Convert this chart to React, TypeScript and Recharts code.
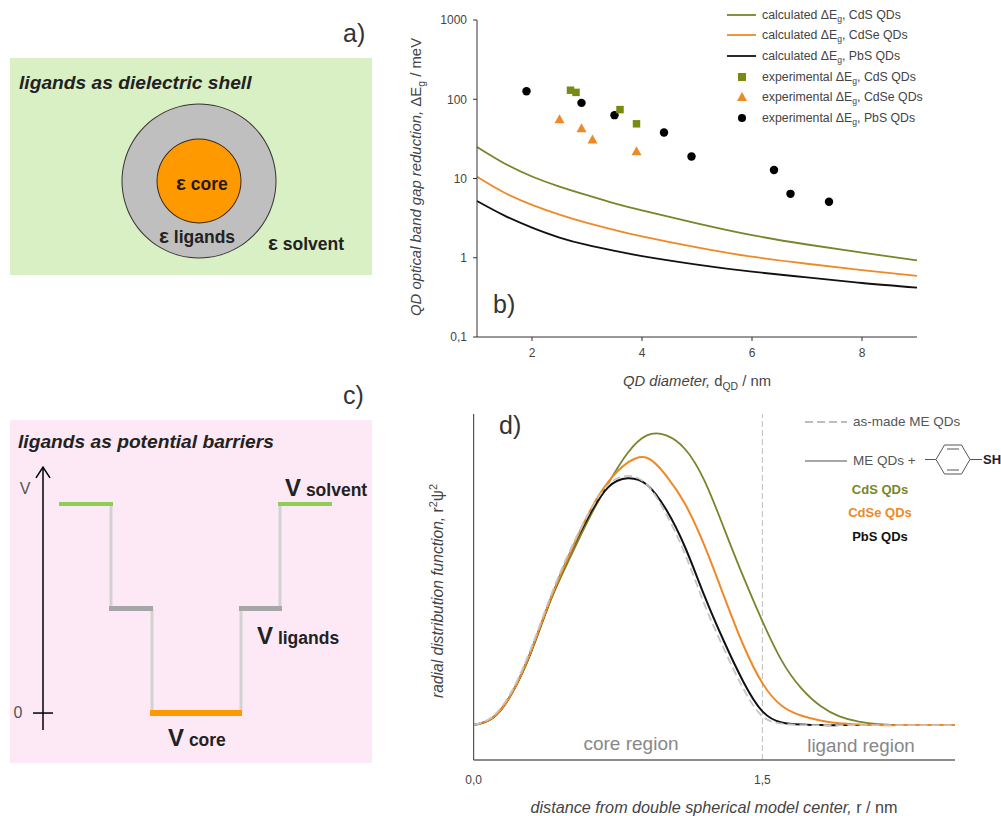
import React from 'react'
import { ComposedChart, LineChart, PieChart, Pie, Line, Scatter, XAxis, YAxis, ZAxis, ReferenceLine } from 'recharts'

const OLIVE = '#77862b'
const ORANGE = '#ee8a26'
const FONT = '"Liberation Sans", Arial, sans-serif'

// panel b
const diameters = [1, 1.5, 2, 2.5, 3, 3.5, 4, 5, 6, 7, 8, 9]
const calcCdS = [25, 15.5, 10.6, 7.9, 6.15, 4.85, 3.95, 2.72, 1.93, 1.47, 1.16, 0.925]
const calcCdSe = [10.5, 6.6, 4.65, 3.5, 2.75, 2.24, 1.86, 1.35, 1.03, 0.84, 0.7, 0.59]
const calcPbS = [5.2, 3.4, 2.4, 1.8, 1.45, 1.22, 1.05, 0.82, 0.667, 0.565, 0.48, 0.42]

const expCdS = [[2.7, 130], [2.8, 122], [3.6, 74], [3.9, 49]]
const expCdSe = [[2.5, 56], [2.9, 43], [3.1, 31], [3.9, 22]]
const expPbS = [[1.9, 126], [2.9, 90], [3.5, 63], [4.4, 38], [4.9, 19], [6.4, 12.8], [6.7, 6.4], [7.4, 5.1]]

const gapTicks = [0.1, 1, 10, 100, 1000]
const diameterTicks = [2, 4, 6, 8]

// panel d
const radii = [0, 0.1, 0.2, 0.3, 0.4, 0.5, 0.6, 0.7, 0.8, 0.9, 1, 1.1, 1.2, 1.3, 1.4, 1.5, 1.6, 1.7, 1.8, 1.9, 2, 2.1, 2.2, 2.3, 2.4, 2.5]
const rdfCdS = [0, 0.025, 0.11, 0.25, 0.425, 0.57, 0.705, 0.825, 0.928, 0.988, 0.988, 0.94, 0.832, 0.672, 0.507, 0.354, 0.22, 0.127, 0.066, 0.03, 0.012, 0.003, 0, 0, 0, 0]
const rdfCdSe = [0, 0.025, 0.11, 0.255, 0.43, 0.585, 0.725, 0.83, 0.895, 0.912, 0.851, 0.752, 0.61, 0.44, 0.274, 0.143, 0.066, 0.033, 0.016, 0.006, 0.002, 0, 0, 0, 0, 0]
const rdfPbS = [0, 0.025, 0.11, 0.255, 0.43, 0.585, 0.715, 0.812, 0.842, 0.82, 0.735, 0.604, 0.439, 0.286, 0.149, 0.047, 0.009, 0.002, 0, 0, 0, 0, 0, 0, 0, 0]
const rdfAsMade = [0, 0.03, 0.118, 0.265, 0.44, 0.595, 0.725, 0.82, 0.85, 0.82, 0.72, 0.58, 0.41, 0.26, 0.125, 0.03, 0.005, 0, 0, 0, 0, 0, 0, 0, 0, 0]
const radiusTicks = [0, 1.5]

// panel c, x in arbitrary position units, y in potential levels
const levelSolventLeft = [[49, 2], [103, 2]]
const levelSolventRight = [[268, 2], [322, 2]]
const levelLigandLeft = [[99, 1], [143, 1]]
const levelLigandRight = [[229, 1], [272, 1]]
const levelCore = [[140, 0], [232, 0]]
const stepLines = [
  [[101, 2], [101, 1]],
  [[142, 1], [142, 0]],
  [[231, 0], [231, 1]],
  [[270, 1], [270, 2]],
]
const potentialAxis = [[33, -0.163], [33, 2.354]]
const potentialArrow = [[26, 2.25], [33, 2.354], [40, 2.25]]
const potentialZero = [[23, 0], [43, 0]]

// panel a, drawn back to front
const shells = [
  { name: 'shell edge', radius: 77.5, fill: '#333333' },
  { name: 'ligands', radius: 76.5, fill: '#bfbfbf' },
  { name: 'core edge', radius: 42.5, fill: '#3a2a1a' },
  { name: 'core', radius: 41.5, fill: '#ff9900' },
]

const toPoints = (pairs: number[][]) => pairs.map(([x, y]) => ({ x, y }))
const calcRows = (values: number[]) => diameters.map((x, i) => ({ x, y: values[i] }))
const rdfRows = (values: number[]) => radii.map((x, i) => ({ x, y: values[i] }))

function Note({ x, y, size = 12, color = '#444', bold = false, italic = false, center = false, rotate = false, children }: any) {
  let transform = center ? 'translate(-50%, -50%)' : 'translateY(-50%)'
  if (rotate) transform = 'translate(-50%, -50%) rotate(-90deg)'
  return (
    <div style={{ position: 'absolute', left: x, top: y, transform, fontSize: size, color, fontFamily: FONT, fontWeight: bold ? 'bold' : 'normal', fontStyle: italic ? 'italic' : 'normal', whiteSpace: 'nowrap', lineHeight: 1 }}>
      {children}
    </div>
  )
}

const Sub = ({ children }: any) => <sub style={{ fontSize: '0.7em', lineHeight: 0 }}>{children}</sub>
const Sup = ({ children }: any) => <sup style={{ fontSize: '0.7em', lineHeight: 0 }}>{children}</sup>

const SmallTriangle = ({ cx, cy }: any) => <polygon points={`${cx},${cy - 5} ${cx + 5},${cy + 4} ${cx - 5},${cy + 4}`} fill={ORANGE} />

function PanelB() {
  return (
    <div style={{ position: 'absolute', left: 400, top: 0 }}>
      <ComposedChart width={600} height={400} margin={{ top: 20, right: 83, bottom: 33, left: 27 }}>
        <XAxis dataKey="x" type="number" domain={[1, 9]} ticks={diameterTicks} stroke="#333" tick={{ fill: '#444', fontSize: 12, fontFamily: FONT }} tickSize={4} tickMargin={7} height={30} allowDuplicatedCategory={false} />
        <YAxis dataKey="y" type="number" scale="log" domain={[0.1, 1000]} ticks={gapTicks} allowDataOverflow stroke="#333" tick={{ fill: '#444', fontSize: 12, fontFamily: FONT }} tickSize={4} tickMargin={6} width={50} tickFormatter={(v) => (v === 0.1 ? '0,1' : String(v))} />
        <ZAxis range={[56, 56]} />
        <Line data={calcRows(calcCdS)} dataKey="y" type="natural" stroke={OLIVE} strokeWidth={1.8} dot={false} isAnimationActive={false} />
        <Line data={calcRows(calcCdSe)} dataKey="y" type="natural" stroke={ORANGE} strokeWidth={1.8} dot={false} isAnimationActive={false} />
        <Line data={calcRows(calcPbS)} dataKey="y" type="natural" stroke="#111" strokeWidth={1.8} dot={false} isAnimationActive={false} />
        <Scatter data={toPoints(expPbS)} dataKey="y" shape="circle" fill="#000" isAnimationActive={false} />
        <Scatter data={toPoints(expCdS)} dataKey="y" shape="square" fill="#7a8a10" isAnimationActive={false} />
        <Scatter data={toPoints(expCdSe)} dataKey="y" shape={SmallTriangle} fill={ORANGE} isAnimationActive={false} />
      </ComposedChart>
    </div>
  )
}

function PanelD() {
  const lineProps = { dataKey: 'y', type: 'natural' as const, dot: false, isAnimationActive: false }
  return (
    <div style={{ position: 'absolute', left: 420, top: 400 }}>
      <ComposedChart width={580} height={416} margin={{ top: 14, right: 45, bottom: 26, left: 23.6 }}>
        <XAxis dataKey="x" type="number" domain={[0, 2.5]} ticks={radiusTicks} stroke="#666" strokeWidth={1.5} tickLine={false} tick={{ fill: '#444', fontSize: 12, fontFamily: FONT }} tickMargin={9} tickFormatter={(v) => v.toFixed(1).replace('.', ',')} height={30} allowDuplicatedCategory={false} />
        <YAxis dataKey="y" type="number" domain={[-0.119, 1.061]} allowDataOverflow tick={false} tickLine={false} stroke="#555" strokeWidth={1.2} width={30} />
        <ReferenceLine x={1.5} stroke="#c8c8c8" strokeDasharray="6 3" strokeWidth={1.2} />
        <Line data={rdfRows(rdfCdS)} stroke={OLIVE} strokeWidth={1.8} {...lineProps} />
        <Line data={rdfRows(rdfPbS)} stroke="#111" strokeWidth={2} {...lineProps} />
        <Line data={rdfRows(rdfCdSe)} stroke={ORANGE} strokeWidth={2} {...lineProps} />
        <Line data={rdfRows(rdfAsMade)} stroke="#c4c4c4" strokeWidth={1.8} strokeDasharray="8 4" {...lineProps} />
      </ComposedChart>
    </div>
  )
}

function PanelA() {
  return (
    <div style={{ position: 'absolute', left: 10, top: 58, background: '#d9efc4' }}>
      <PieChart width={362} height={217} margin={{ top: 0, right: 0, bottom: 0, left: 0 }}>
        {shells.map((s) => (
          <Pie key={s.name} data={[{ name: s.name, value: 1 }]} dataKey="value" cx={189} cy={123} innerRadius={0} outerRadius={s.radius} fill={s.fill} stroke="none" isAnimationActive={false} />
        ))}
      </PieChart>
    </div>
  )
}

function PanelC() {
  const seg = (pairs: number[][], color: string, width: number, key: string) => (
    <Line key={key} data={toPoints(pairs)} dataKey="y" type="linear" stroke={color} strokeWidth={width} dot={false} isAnimationActive={false} />
  )
  return (
    <div style={{ position: 'absolute', left: 10, top: 420, background: '#fde9f5' }}>
      <LineChart width={362} height={343} margin={{ top: 0, right: 0, bottom: 0, left: 0 }}>
        <XAxis dataKey="x" type="number" domain={[0, 362]} hide allowDuplicatedCategory={false} />
        <YAxis dataKey="y" type="number" domain={[-0.478, 2.804]} hide />
        {stepLines.map((s, i) => seg(s, '#d2d2d2', 3, `step${i}`))}
        {seg(levelSolventLeft, '#8fce55', 4, 'sl')}
        {seg(levelSolventRight, '#8fce55', 4, 'sr')}
        {seg(levelLigandLeft, '#a6a6a6', 5, 'll')}
        {seg(levelLigandRight, '#a6a6a6', 5, 'lr')}
        {seg(levelCore, '#ff9900', 6, 'core')}
        {seg(potentialAxis, '#000', 1.5, 'axis')}
        {seg(potentialArrow, '#000', 1.5, 'arrow')}
        {seg(potentialZero, '#000', 1.5, 'zero')}
      </LineChart>
    </div>
  )
}

function LegendB() {
  const rows = [
    ['calculated', 'CdS QDs', 15],
    ['calculated', 'CdSe QDs', 35],
    ['calculated', 'PbS QDs', 56],
    ['experimental', 'CdS QDs', 77],
    ['experimental', 'CdSe QDs', 97],
    ['experimental', 'PbS QDs', 118],
  ] as const
  return (
    <>
      <svg style={{ position: 'absolute', left: 0, top: 0 }} width={1001} height={816}>
        <line x1={727} x2={756} y1={15} y2={15} stroke={OLIVE} strokeWidth={1.8} />
        <line x1={727} x2={756} y1={35} y2={35} stroke={ORANGE} strokeWidth={1.8} />
        <line x1={727} x2={756} y1={56} y2={56} stroke="#111" strokeWidth={1.8} />
        <rect x={738} y={73} width={8} height={8} fill="#7a8a10" />
        <polygon points="742,92 747,101 737,101" fill={ORANGE} />
        <circle cx={742} cy={118} r={4} fill="#000" />
        <line x1={805} x2={847} y1={422} y2={422} stroke="#bdbdbd" strokeWidth={1.8} strokeDasharray="8 4" />
        <line x1={805} x2={847} y1={461} y2={461} stroke="#8a8a8a" strokeWidth={1.5} />
        <g fill="none" stroke="#555" strokeWidth={1}>
          <polygon points="936,459.5 944.5,445 961.5,445 970,459.5 961.5,474 944.5,474" />
          <line x1={947} y1={449} x2={959} y2={449} />
          <line x1={947} y1={470} x2={959} y2={470} />
          <line x1={925} y1={459.5} x2={936} y2={459.5} />
          <line x1={970} y1={459.5} x2={982} y2={459.5} />
        </g>
      </svg>
      {rows.map(([kind, name, y]) => (
        <Note key={kind + name} x={762} y={y} size={12.3}>
          {kind} &Delta;E<Sub>g</Sub>, {name}
        </Note>
      ))}
    </>
  )
}

export default function App() {
  return (
    <div style={{ position: 'absolute', left: 0, top: 0, width: 1001, height: 816, background: '#fff', overflow: 'hidden' }}>
      <PanelA />
      <PanelB />
      <PanelC />
      <PanelD />
      <LegendB />

      <Note x={343} y={33} size={25} color="#333">a)</Note>
      <Note x={493} y={304} size={25} color="#333">b)</Note>
      <Note x={343} y={395} size={25} color="#333">c)</Note>
      <Note x={499} y={425} size={25} color="#333">d)</Note>

      <Note x={19} y={83} size={19.2} color="#222" bold italic>ligands as dielectric shell</Note>
      <Note x={176} y={183} size={17.5} color="#2a1a0a" bold><span style={{ fontSize: 21 }}>&epsilon;</span> core</Note>
      <Note x={159} y={236} size={17.5} color="#222" bold><span style={{ fontSize: 21 }}>&epsilon;</span> ligands</Note>
      <Note x={268} y={243} size={17.5} color="#222" bold><span style={{ fontSize: 21 }}>&epsilon;</span> solvent</Note>

      <Note x={18} y={442} size={19.2} color="#222" bold italic>ligands as potential barriers</Note>
      <Note x={285} y={488} size={17.5} color="#222" bold><span style={{ fontSize: 24 }}>V</span> solvent</Note>
      <Note x={257} y={636} size={17.5} color="#222" bold><span style={{ fontSize: 24 }}>V</span> ligands</Note>
      <Note x={168} y={738} size={17.5} color="#222" bold><span style={{ fontSize: 24 }}>V</span> core</Note>
      <Note x={25} y={489} size={16} color="#555" center>V</Note>
      <Note x={18} y={713} size={16} color="#555" center>0</Note>

      <Note x={416} y={177} size={14.9} rotate>
        <i>QD optical band gap reduction,</i> &Delta;E<Sub>g</Sub> / meV
      </Note>
      <Note x={697} y={381} size={14.8} center>
        <i>QD diameter,</i> d<Sub>QD</Sub> / nm
      </Note>

      <Note x={438} y={591} size={15.6} rotate>
        <i>radial distribution function,</i> r<Sup>2</Sup>&psi;<Sup>2</Sup>
      </Note>
      <Note x={714} y={807} size={16.2} center>
        <i>distance from double spherical model center,</i> r / nm
      </Note>
      <Note x={631} y={743} size={19} color="#888" center>core region</Note>
      <Note x={861} y={746} size={18.8} color="#888" center>ligand region</Note>

      <Note x={853} y={422} size={13.5} color="#555">as-made ME QDs</Note>
      <Note x={853} y={461} size={13.5} color="#555">ME QDs +</Note>
      <Note x={983} y={459} size={13} color="#222" bold>SH</Note>
      <Note x={880} y={489} size={13} color={OLIVE} bold center>CdS QDs</Note>
      <Note x={880} y={512} size={13} color={ORANGE} bold center>CdSe QDs</Note>
      <Note x={880} y={536} size={13} color="#111" bold center>PbS QDs</Note>
    </div>
  )
}
